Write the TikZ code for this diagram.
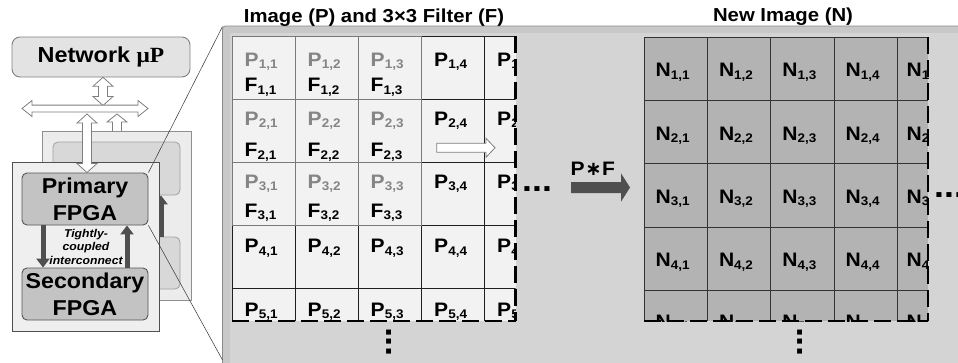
\documentclass[tikz,border=0pt]{standalone}
\usepackage{fontspec}
\setmainfont{Liberation Sans}[FakeStretch=1.08]
\newfontfamily\serifbf{Liberation Serif}[FakeStretch=1.08]
\newfontfamily\djv{DejaVu Sans}
\usetikzlibrary{arrows.meta}
\definecolor{pgray}{HTML}{858585}
\definecolor{netfill}{HTML}{E3E3E3}
\definecolor{netdraw}{HTML}{808080}
\definecolor{bbfill}{HTML}{ECECEC}
\definecolor{bbdraw}{HTML}{8F8F8F}
\definecolor{brfill}{HTML}{D8D8D8}
\definecolor{brdraw}{HTML}{A0A0A0}
\definecolor{fbfill}{HTML}{EFEFEF}
\definecolor{fbdraw}{HTML}{505050}
\definecolor{fpgafill}{HTML}{C3C3C3}
\definecolor{fpgadraw}{HTML}{555555}
\definecolor{darkg}{HTML}{4F4F4F}
\definecolor{hollowdraw}{HTML}{7F7F7F}
\definecolor{panstrip}{HTML}{C8C8C8}
\definecolor{panin}{HTML}{D4D4D4}
\definecolor{panedge}{HTML}{8A8A8A}
\definecolor{pcell}{HTML}{F2F2F2}
\definecolor{ncell}{HTML}{B3B3B3}
\definecolor{filtg}{HTML}{7A7A7A}
\newcommand\sbx[2]{#1\raisebox{-2.6pt}{\fontsize{12.5}{12.5}\selectfont #2}}
\newcommand\sbxr[2]{#1\rlap{\raisebox{-2.6pt}{\fontsize{12.5}{12.5}\selectfont #2}}}
\newcommand\vdarrow[6]{% x, ytop, ybot, shafthalf, headhalf, headlen
  \draw[hollowarrow] (#1,#2) -- ({#1+#5},{#2+#6}) -- ({#1+#4},{#2+#6}) -- ({#1+#4},{#3-#6}) -- ({#1+#5},{#3-#6}) -- (#1,#3) -- ({#1-#5},{#3-#6}) -- ({#1-#4},{#3-#6}) -- ({#1-#4},{#2+#6}) -- ({#1-#5},{#2+#6}) -- cycle;}
\newcommand\hdarrow[6]{% y, xleft, xright, shafthalf, headhalf, headlen
  \draw[hollowarrow] (#2,#1) -- ({#2+#6},{#1-#5}) -- ({#2+#6},{#1-#4}) -- ({#3-#6},{#1-#4}) -- ({#3-#6},{#1-#5}) -- (#3,#1) -- ({#3-#6},{#1+#5}) -- ({#3-#6},{#1+#4}) -- ({#2+#6},{#1+#4}) -- ({#2+#6},{#1+#5}) -- cycle;}
\tikzset{
  hollowarrow/.style={draw=hollowdraw, fill=white, line width=0.8pt, line join=miter},
  darkarrow/.style={draw=darkg, line width=5pt, -{Triangle[length=9pt,width=13pt]}},
  fpga/.style={draw=fpgadraw, fill=fpgafill, line width=0.9pt, rounded corners=5pt, inner sep=0pt, minimum width=126pt, minimum height=52pt, align=center, font=\fontsize{21.5}{27}\selectfont\bfseries},
  backrect/.style={draw=brdraw, fill=brfill, line width=0.8pt, rounded corners=5pt, inner sep=0pt, minimum width=127pt},
  celltext/.style={anchor=base west, inner sep=0pt, font=\fontsize{19.5}{20}\selectfont\bfseries},
  heading/.style={anchor=base, inner sep=0pt, font=\fontsize{18.8}{20}\selectfont\bfseries},
  dotstext/.style={inner sep=0pt, font=\fontsize{33}{33}\selectfont\bfseries},
  gridline/.style={draw=black!88, line width=0.8pt},
  filtline/.style={draw=filtg, line width=0.8pt},
  nline/.style={draw=black!80, line width=0.8pt},
  dashedge/.style={draw=black, line width=2.4pt, dash pattern=on 17pt off 6pt},
  zoomline/.style={draw=black!80, line width=0.5pt},
}
\begin{document}
\begin{tikzpicture}[x=1pt,y=-1pt]
\useasboundingbox (0,0) rectangle (958,362);
\fill[white] (0,0) rectangle (958,362);

% ---------- big panel ----------
\draw[draw=panedge, fill=panstrip, line width=0.8pt, rounded corners=3pt] (222.5,366) -- (222.5,26) -- (962,26) -- (962,366);
\fill[panin] (230,33) rectangle (962,366);
\coordinate (pantl) at (222.5,26.5);
\coordinate (panbl) at (222.5,360);

% headings
\node[heading] (hp) at (374,22.5) {Image (P) and 3×3 Filter (F)};
\node[heading] (hn) at (783,21.7) {New Image (N)};

% ---------- P grid ----------
\fill[pcell] (232,36) rectangle (515.5,321);
\begin{scope}
  \clip (231,35) rectangle (515.5,321);
  \draw[gridline] (232,36) -- (515.5,36);
  \foreach \yy in {99,162,225,288} \draw[gridline] (232,\yy) -- (515.5,\yy);
  \foreach \xx in {232,295,358,421.5,484} \draw[gridline] (\xx,36) -- (\xx,321);
  \draw[filtline, fill=pcell] (232,36) rectangle (421.5,225);
  \foreach \yy in {99,162} \draw[filtline] (232,\yy) -- (421.5,\yy);
  \foreach \xx in {295,358} \draw[filtline] (\xx,36) -- (\xx,225);
  \foreach \r/\yy in {1/66,2/125,3/188,4/252.5,5/316}
    \foreach \c/\xx in {1/244.5,2/307.5,3/370.5,4/434}
      \node[celltext] (p\r\c) at (\xx,\yy) {\ifnum\r<4 \ifnum\c<4 \color{pgray}\fi\fi\sbx{P}{\r,\c}};
  \foreach \r/\yy in {1/66,2/125,3/188,4/252.5,5/316}
      \node[celltext] (p\r5) at (497,\yy) {\sbxr{P}{\r,5}};
  \foreach \r/\yy in {1/91.5,2/156.7,3/217}
    \foreach \c/\xx in {1/244.5,2/307.5,3/370.5}
      \node[celltext] (f\r\c) at (\xx,\yy) {\sbx{F}{\r,\c}};
\end{scope}
\draw[dashedge] (515.5,36) -- (515.5,321);
\draw[dashedge] (232,321) -- (515.5,321);
% hollow right arrow inside grid
\draw[hollowarrow] (436.7,143.3) -- (486,143.3) -- (486,138.3) -- (495,147.8) -- (486,157.3) -- (486,152.3) -- (436.7,152.3) -- cycle;

% dots after P grid and below
\node[dotstext, anchor=base west] (hdp) at (522,191) {...};
\node[dotstext, rotate=90] (vdp) at (389,342) {...};

% ---------- P*F arrow ----------
\node[celltext] (pf) at (570.5,175) {P\kern0.5pt{\djv\bfseries ∗}\kern0.5ptF};
\fill[darkg] (571,182) -- (621,182) -- (621,173.3) -- (630,187.5) -- (621,201.7) -- (621,193) -- (571,193) -- cycle;

% ---------- N grid ----------
\fill[ncell] (644,37) rectangle (928,321);
\begin{scope}
  \clip (643,36) rectangle (928,321);
  \draw[nline] (644,37) -- (928,37);
  \foreach \yy in {100.3,163.6,226.9,290.2} \draw[nline] (644,\yy) -- (928,\yy);
  \foreach \xx in {644,707.3,770.6,833.9,897.2} \draw[nline] (\xx,37) -- (\xx,321);
  \foreach \r/\yy in {1/76.7,2/140,3/203.3,4/266.7,5/328}
    \foreach \c/\xx in {1/655.5,2/718.8,3/782.1,4/845.4}
      \node[celltext] (n\r\c) at (\xx,\yy) {\sbx{N}{\r,\c}};
  \foreach \r/\yy in {1/76.7,2/140,3/203.3,4/266.7,5/328}
      \node[celltext] (n\r5) at (906.5,\yy) {\sbxr{N}{\r,5}};
\end{scope}
\draw[dashedge] (928,37) -- (928,321);
\draw[dashedge] (644,321) -- (928,321);
\node[dotstext, anchor=base west] (hdn) at (934,197) {...};
\node[dotstext, rotate=90] (vdn) at (800,342) {...};

% ---------- left system ----------
\node[draw=netdraw, fill=netfill, line width=0.9pt, rounded corners=8pt, minimum width=178pt, minimum height=40pt, inner sep=0pt, font=\fontsize{21.7}{22}\selectfont\bfseries] (net) at (101,57) {Network {\serifbf\bfseries μP}};
\vdarrow{103}{77.3}{105.5}{4.5}{10}{9}
\hdarrow{108.5}{22}{148}{3.4}{8}{10}
\vdarrow{117}{114}{139.5}{4.5}{10}{8}

% back board
\node[draw=bbdraw, fill=bbfill, line width=0.8pt, inner sep=0pt, minimum width=149pt, minimum height=169pt] (bboard) at (116.5,215.5) {};
\node[backrect, minimum height=53pt] (bprim) at (116.5,168.5) {};
\node[backrect, minimum height=52pt] (bsec) at (116.5,263) {};
\draw[darkarrow] ([xshift=44.5pt]bsec.north) -- ([xshift=44.5pt]bprim.south);

% front board
\node[draw=fbdraw, fill=fbfill, line width=0.9pt, inner sep=0pt, minimum width=147pt, minimum height=169pt] (fboard) at (85.5,246.5) {};
\node[fpga] (prim) at (85,199) {Primary\\FPGA};
\node[fpga] (sec) at (85,294) {Secondary\\FPGA};
\draw[darkarrow] ([xshift=-42pt]prim.south) -- ([xshift=-42pt]sec.north);
\draw[darkarrow] ([xshift=42pt]sec.north) -- ([xshift=42pt]prim.south);
\node[inner sep=0pt, align=center, font=\fontsize{11.3}{13.5}\selectfont\bfseries\itshape] (tci) at (86,246.5) {Tightly-\\coupled\\interconnect};

% bus arrow down to primary FPGA (drawn over boards)
\vdarrow{87}{114}{172.5}{4.5}{10}{9}

% zoom lines
\draw[zoomline] (prim.north east) -- (pantl);
\draw[zoomline] (prim.south east) -- (panbl);
\end{tikzpicture}
\end{document}
